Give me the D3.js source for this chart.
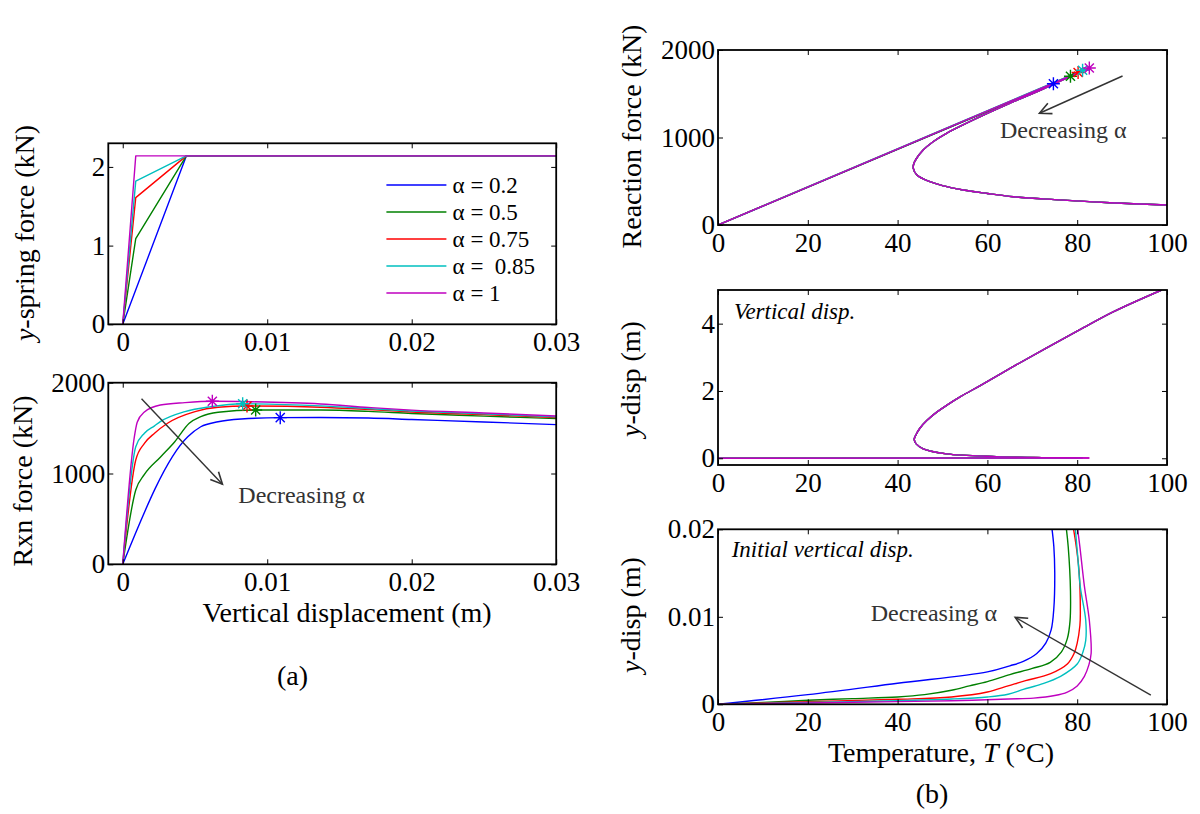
<!DOCTYPE html>
<html><head><meta charset="utf-8">
<script src="https://cdn.jsdelivr.net/npm/d3@7"></script>
<style>
body{margin:0;background:#fff;}
svg text{font-family:"Liberation Serif","Times New Roman",serif;}
</style></head><body>
<svg id="c" width="1200" height="814"></svg>
<script>
// ---------- data ----------
const alphaLabels = ["α = 0.2", "α = 0.5", "α = 0.75", "α =  0.85", "α = 1"];
const seriesColors = ["#0000ff", "#008000", "#ff0000", "#00bfbf", "#bf00bf"];

// (a) top: y-spring force (kN) vs vertical displacement (m)
const springA02  = [[0,0],[0.0044,2.14],[0.03,2.14]];
const springA05  = [[0,0],[0.0009,1.09],[0.0044,2.14],[0.03,2.14]];
const springA075 = [[0,0],[0.0009,1.61],[0.0044,2.14],[0.03,2.14]];
const springA085 = [[0,0],[0.0009,1.82],[0.0044,2.14],[0.03,2.14]];
const springA1   = [[0,0],[0.0009,2.14],[0.03,2.14]];

// (a) bottom: reaction force (kN) vs vertical displacement (m)
const rxnA02  = [[0,0],[0.0045,1405],[0.0054,1515],[0.0066,1570],[0.0082,1600],[0.0109,1615],[0.0137,1617],[0.017,1611],[0.02,1595],[0.025,1568],[0.03,1538]];
const rxnA05  = [[0,0],[0.0009,818],[0.0015,990],[0.0026,1180],[0.0036,1350],[0.0046,1553],[0.0054,1626],[0.0066,1674],[0.0092,1700],[0.0137,1699],[0.017,1684],[0.02,1660],[0.025,1632],[0.03,1604]];
const rxnA075 = [[0,0],[0.0009,1149],[0.0015,1332],[0.0022,1443],[0.0031,1553],[0.005,1681],[0.0066,1729],[0.0086,1743],[0.0137,1730],[0.017,1705],[0.02,1678],[0.025,1648],[0.03,1616]];
const rxnA085 = [[0,0],[0.0009,1295],[0.0015,1443],[0.0022,1525],[0.0026,1571],[0.0043,1681],[0.0061,1736],[0.0083,1768],[0.0137,1745],[0.017,1715],[0.02,1689],[0.025,1657],[0.03,1624]];
const rxnA1   = [[0,0],[0.0008,1400],[0.001,1565],[0.0015,1678],[0.0026,1754],[0.0043,1780],[0.0062,1795],[0.009,1790],[0.0137,1766],[0.017,1728],[0.02,1698],[0.025,1667],[0.03,1634]];

// peak (failure) points, marked with asterisks
const peakDisp = [0.0109, 0.0092, 0.0086, 0.0083, 0.0062];
const peakForce = [1615, 1700, 1743, 1768, 1795];
const peakTemp = [74.7, 78.5, 80.2, 81.2, 82.7];

// (b) top: reaction force return branch after the peak (T, kN)
const returnTemp  = [72.6, 65.8, 58.4, 50.9, 47.9, 45.7, 44.2, 43.6, 43.5, 44.3, 45.6, 47.2, 50, 54.6, 60, 65.8, 75, 87.3, 100];
const returnForce = [1560, 1409, 1238, 1048, 952, 857, 760, 700, 648, 571, 530, 495, 450, 400, 360, 323, 290, 255, 228];

// (b) middle: vertical displacement return branch (T, m)
const dispRetTemp = [72, 62, 50.9, 45.7, 44.2, 43.7, 44.1, 45, 46.5, 48.5, 50.9, 54, 58.4, 65.8, 73.2, 80.6, 88, 98.8];
const dispRetDisp = [0.02, 0.05, 0.13, 0.28, 0.42, 0.56, 0.7, 0.9, 1.12, 1.35, 1.57, 1.83, 2.16, 2.73, 3.28, 3.82, 4.35, 5.0];
const peakDispB = [0.01, 0.01, 0.01, 0.01, 0.01];

// (b) bottom: initial vertical displacement (T, m)
const initA02  = [[0,0],[20,0.0011],[40,0.0024],[60,0.0037],[65,0.0044],[68,0.0049],[71,0.0058],[73,0.007],[74.2,0.0085],[74.8,0.011],[75,0.015],[74.8,0.018],[74.4,0.02]];
const initA05  = [[0,0],[10,0.0002],[20,0.00046],[30,0.00065],[40,0.00084],[46,0.0011],[52,0.0016],[56,0.0021],[60,0.0026],[65,0.0034],[70,0.0041],[74,0.0048],[76.5,0.006],[77.8,0.0075],[78.4,0.0095],[78.5,0.013],[78,0.018],[77.6,0.02]];
const initA075 = [[0,0],[20,0.0003],[40,0.00057],[52,0.00084],[60,0.0014],[64.6,0.0021],[68.5,0.0027],[74.1,0.0035],[77.8,0.0046],[79.3,0.0058],[80,0.007],[80.6,0.009],[80.7,0.0104],[80.4,0.0153],[79.8,0.018],[79.2,0.02]];
const initA085 = [[0,0],[20,0.0002],[40,0.0004],[52,0.0006],[60,0.00084],[64.6,0.00115],[68,0.0017],[72,0.0023],[76.3,0.0032],[80,0.0046],[81.3,0.006],[81.9,0.0073],[81.9,0.0096],[80.7,0.0134],[80.1,0.017],[79.6,0.02]];
const initA1   = [[0,0],[20,0.00015],[40,0.0003],[52,0.0004],[64.6,0.0006],[70.3,0.0007],[75,0.001],[77.8,0.0014],[80,0.0021],[81.6,0.0032],[82.6,0.0045],[83.1,0.0058],[82.7,0.0096],[81.6,0.0135],[80.6,0.018],[80.1,0.02]];

// tick values
const dispTicks = [0, 0.01, 0.02, 0.03];
const springTicks = [0, 1, 2];
const forceTicks = [0, 1000, 2000];
const tempTicks = [0, 20, 40, 60, 80, 100];
const yDispTicks = [0, 2, 4];
const initTicks = [0, 0.01, 0.02];

const springSeries = [springA02, springA05, springA075, springA085, springA1];
const rxnSeries = [rxnA02, rxnA05, rxnA075, rxnA085, rxnA1];
const initSeries = [initA02, initA05, initA075, initA085, initA1];

// ---------- drawing ----------
const svg = d3.select("#c");
const FONT = '"Liberation Serif","Times New Roman",serif';
const TICK_FS = 27, LABEL_FS = 28;

function makePanel(o) {
  const x = d3.scaleLinear().domain(o.xd).range([o.left, o.right]);
  const y = d3.scaleLinear().domain(o.yd).range([o.bottom, o.top]);
  const g = svg.append("g");
  svg.append("clipPath").attr("id", o.id).append("rect")
    .attr("x", o.left).attr("y", o.top).attr("width", o.right - o.left).attr("height", o.bottom - o.top);
  const plot = g.append("g").attr("clip-path", `url(#${o.id})`);
  const ax = (gen, tr) => {
    const a = g.append("g").attr("transform", tr).call(gen);
    a.select(".domain").remove();
    a.attr("font-family", FONT).attr("font-size", TICK_FS);
    a.selectAll("line").attr("stroke", "#000").attr("stroke-width", 1);
    a.selectAll("text").attr("fill", "#000");
    return a;
  };
  ax(d3.axisBottom(x).tickValues(o.xt).tickFormat(o.xf).tickSizeInner(-5).tickSizeOuter(0).tickPadding(8), `translate(0,${o.bottom})`);
  ax(d3.axisTop(x).tickValues(o.xt).tickFormat("").tickSizeInner(-5).tickSizeOuter(0), `translate(0,${o.top})`);
  ax(d3.axisLeft(y).tickValues(o.yt).tickFormat(o.yf).tickSizeInner(-5).tickSizeOuter(0).tickPadding(3), `translate(${o.left},0)`);
  ax(d3.axisRight(y).tickValues(o.yt).tickFormat("").tickSizeInner(-5).tickSizeOuter(0), `translate(${o.right},0)`);
  const frame = g.append("rect").attr("x", o.left).attr("y", o.top)
    .attr("width", o.right - o.left).attr("height", o.bottom - o.top)
    .attr("fill", "none").attr("stroke", "#000").attr("stroke-width", 1.8);
  return { x, y, g, plot, frame };
}

function drawLine(p, data, color, curve) {
  const line = d3.line().x(d => p.x(d[0])).y(d => p.y(d[1])).curve(curve || d3.curveLinear);
  p.plot.append("path").datum(data).attr("d", line)
    .attr("fill", "none").attr("stroke", color).attr("stroke-width", 1.4).attr("stroke-linejoin", "round");
}

function star(p, vx, vy, color) {
  const cx = p.x(vx), cy = p.y(vy), s = 6.5, t = s * 0.7;
  p.g.append("path")
    .attr("d", `M${cx},${cy - s}L${cx},${cy + s}M${cx - s},${cy}L${cx + s},${cy}M${cx - t},${cy - t}L${cx + t},${cy + t}M${cx - t},${cy + t}L${cx + t},${cy - t}`)
    .attr("stroke", color).attr("stroke-width", 1.4).attr("fill", "none");
}

function arrow(p, x1v, y1v, x2v, y2v) {
  const x1 = p.x(x1v), y1 = p.y(y1v), x2 = p.x(x2v), y2 = p.y(y2v);
  const ang = Math.atan2(y2 - y1, x2 - x1), L = 13, w = 0.45;
  const col = "#333";
  p.g.append("line").attr("x1", x1).attr("y1", y1).attr("x2", x2).attr("y2", y2)
    .attr("stroke", col).attr("stroke-width", 1.4);
  p.g.append("path")
    .attr("d", `M${x2 - L * Math.cos(ang - w)},${y2 - L * Math.sin(ang - w)}L${x2},${y2}L${x2 - L * Math.cos(ang + w)},${y2 - L * Math.sin(ang + w)}`)
    .attr("stroke", col).attr("stroke-width", 1.6).attr("fill", "none");
}

function text(x, y, str, opt) {
  opt = opt || {};
  const t = svg.append("text").attr("x", x).attr("y", y)
    .attr("font-family", FONT).attr("font-size", opt.fs || LABEL_FS)
    .attr("fill", opt.fill || "#000")
    .attr("text-anchor", opt.anchor || "middle")
    .style("white-space", "pre");
  if (str) t.text(str);
  if (opt.italic) t.attr("font-style", "italic");
  if (opt.rotate) t.attr("transform", `rotate(-90,${x},${y})`);
  if (opt.baseline) t.attr("dominant-baseline", opt.baseline);
  return t;
}

const fmtDisp = d => d === 0 ? "0" : d3.format(".2f")(d);
const fmtInt = d3.format("d");

// ---- Panel (a) top ----
const pA1 = makePanel({ id: "ca1", left: 108.3, right: 556.2, top: 143.3, bottom: 324.3,
  xd: [-0.001, 0.03], yd: [0, 2.3], xt: dispTicks, yt: springTicks, xf: fmtDisp, yf: fmtInt });
springSeries.forEach((s, i) => drawLine(pA1, s, seriesColors[i]));
// legend
alphaLabels.forEach((lab, i) => {
  const yy = 185 + i * 27;
  pA1.g.append("line").attr("x1", 386.4).attr("x2", 446.4).attr("y1", yy).attr("y2", yy)
    .attr("stroke", seriesColors[i]).attr("stroke-width", 1.4);
  text(452.6, yy, lab, { fs: 23, anchor: "start", baseline: "central" });
});
{
  const t = text(34, 233, "", { rotate: true });
  t.append("tspan").attr("font-style", "italic").text("y");
  t.append("tspan").text("-spring force (kN)");
}

// ---- Panel (a) bottom ----
const pA2 = makePanel({ id: "ca2", left: 108.3, right: 556.2, top: 382.7, bottom: 564.3,
  xd: [-0.001, 0.03], yd: [0, 2000], xt: dispTicks, yt: forceTicks, xf: fmtDisp, yf: fmtInt });
rxnSeries.forEach((s, i) => drawLine(pA2, s, seriesColors[i], d3.curveMonotoneX));
rxnSeries.forEach((s, i) => star(pA2, peakDisp[i], peakForce[i], seriesColors[i]));
arrow(pA2, 0.0013, 1824, 0.0069, 882);
text(pA2.x(0.008), pA2.y(762), "Decreasing α", { fs: 24, anchor: "start", baseline: "central", fill: "#333" });
text(32, 481, "Rxn force (kN)", { rotate: true });
text(347, 622, "Vertical displacement (m)");
text(292.6, 685, "(a)");

// ---- Panel (b) top ----
const pB1 = makePanel({ id: "cb1", left: 718, right: 1167, top: 50, bottom: 225,
  xd: [0, 100], yd: [0, 2000], xt: tempTicks, yt: forceTicks, xf: fmtInt, yf: fmtInt });
const retB1 = returnTemp.map((t, j) => [t, returnForce[j]]);
peakTemp.forEach((T, i) => {
  drawLine(pB1, [[0, 0], [T, peakForce[i]]], seriesColors[i]);
  drawLine(pB1, [[T, peakForce[i]], ...retB1], seriesColors[i], d3.curveCatmullRom.alpha(0.5));
});
peakTemp.forEach((T, i) => star(pB1, T, peakForce[i], seriesColors[i]));
arrow(pB1, 90.1, 1703, 71.6, 1277);
text(pB1.x(62.8), pB1.y(1086), "Decreasing α", { fs: 24, anchor: "start", baseline: "central", fill: "#333" });
text(641, 136.5, "Reaction force (kN)", { rotate: true });

// ---- Panel (b) middle ----
const pB2 = makePanel({ id: "cb2", left: 718, right: 1167, top: 290, bottom: 465,
  xd: [0, 100], yd: [-0.2, 5], xt: tempTicks, yt: yDispTicks, xf: fmtInt, yf: fmtInt });
const retB2 = dispRetTemp.map((t, j) => [t, dispRetDisp[j]]);
peakTemp.forEach((T, i) => {
  drawLine(pB2, [[0, 0], [T, peakDispB[i]]], seriesColors[i]);
  drawLine(pB2, [[T, peakDispB[i]], ...retB2], seriesColors[i], d3.curveCatmullRom.alpha(0.5));
});
text(733.9, 318.5, "Vertical disp.", { fs: 23, anchor: "start", italic: true });
{
  const t = text(640, 379, "", { rotate: true });
  t.append("tspan").attr("font-style", "italic").text("y");
  t.append("tspan").text("-disp (m)");
}

// ---- Panel (b) bottom ----
const pB3 = makePanel({ id: "cb3", left: 718, right: 1167, top: 529.3, bottom: 704.3,
  xd: [0, 100], yd: [0, 0.02], xt: tempTicks, yt: initTicks, xf: fmtInt, yf: fmtDisp });
initSeries.forEach((s, i) => drawLine(pB3, s, seriesColors[i], d3.curveCatmullRom.alpha(0.5)));
arrow(pB3, 96.4, 0.00106, 66.2, 0.00994);
text(pB3.x(34), pB3.y(0.01047), "Decreasing α", { fs: 24, anchor: "start", baseline: "central", fill: "#333" });
text(731.7, 557, "Initial vertical disp.", { fs: 23, anchor: "start", italic: true });
{
  const t = text(640, 615, "", { rotate: true });
  t.append("tspan").attr("font-style", "italic").text("y");
  t.append("tspan").text("-disp (m)");
}
{
  const t = text(941, 762, "");
  t.append("tspan").text("Temperature, ");
  t.append("tspan").attr("font-style", "italic").text("T");
  t.append("tspan").text(" (°C)");
}
text(932, 803, "(b)");
</script>
</body></html>
